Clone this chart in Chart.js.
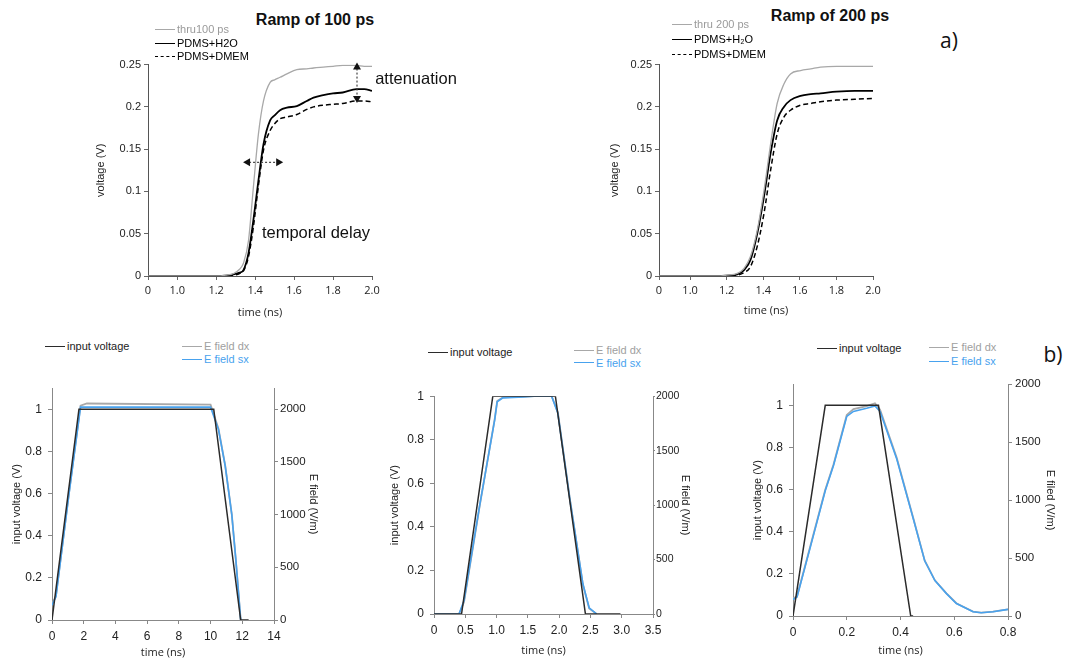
<!DOCTYPE html>
<html>
<head>
<meta charset="utf-8">
<script src="https://cdn.jsdelivr.net/npm/chart.js@4.4.1/dist/chart.umd.min.js"></script>
<style>
  body { margin: 0; width: 1073px; height: 661px; background: #fff; position: relative; overflow: hidden;
         font-family: "Liberation Sans", Arial, sans-serif; }
  canvas { position: absolute; }
  .lbl { position: absolute; white-space: nowrap; color: #111; transform: translate(-50%, -50%); }
  .lg { position: absolute; font-size: 11px; }
  .lg div { display: flex; align-items: center; white-space: nowrap; }
  .lg .ln { display: inline-block; width: 20px; margin-right: 2px; border-top-width: 1.5px; }
</style>
</head>
<body>

<canvas id="c1" width="300" height="268" style="left:90px;top:55px"></canvas>
<canvas id="c2" width="287" height="266" style="left:604px;top:55px"></canvas>
<canvas id="c3" width="318" height="286" style="left:6px;top:375px"></canvas>
<canvas id="c4" width="312" height="278" style="left:384px;top:383px"></canvas>
<canvas id="c5" width="314" height="290" style="left:747px;top:371px"></canvas>

<div class="lbl" style="left:315px;top:20px;font-weight:bold;font-size:16px">Ramp of 100 ps</div>
<div class="lbl" style="left:830px;top:16px;font-weight:bold;font-size:16px">Ramp of 200 ps</div>
<div class="lbl" style="left:416px;top:78px;font-size:16.5px">attenuation</div>
<div class="lbl" style="left:316px;top:232px;font-size:16.5px">temporal delay</div>
<div class="lbl" style="left:949px;top:40px;font-size:21px;font-family:'Open Sans'">a)</div>
<div class="lbl" style="left:1053px;top:354px;font-size:21px;font-family:'Open Sans'">b)</div>

<div class="lg" id="lg1" style="left:155px;top:23px;line-height:13.5px"></div>
<div class="lg" id="lg2" style="left:672px;top:17px;line-height:15px"></div>
<div class="lg" id="lg3a" style="left:45px;top:340px;line-height:13px"></div>
<div class="lg" id="lg3b" style="left:182px;top:340px;line-height:13px"></div>
<div class="lg" id="lg4a" style="left:428px;top:346px;line-height:13px"></div>
<div class="lg" id="lg4b" style="left:574px;top:344px;line-height:12.5px"></div>
<div class="lg" id="lg5a" style="left:817px;top:341px;line-height:14px"></div>
<div class="lg" id="lg5b" style="left:929px;top:340px;line-height:14px"></div>

<script>
/*************************************************
 * Data - ramp of 100 ps (time in ns, voltage in V)
 *************************************************/
const ramp100Time = [0.85, 1.0, 1.1, 1.2, 1.25, 1.29, 1.32, 1.34, 1.366, 1.391, 1.417, 1.443, 1.477, 1.50,
                     1.528, 1.563, 1.614, 1.665, 1.70, 1.75, 1.80, 1.85, 1.92, 1.96, 2.0];
const thru100 = [0, 0, 0, 0, 0.001, 0.003, 0.008, 0.015, 0.042, 0.105, 0.168, 0.207, 0.229, 0.232,
                 0.235, 0.239, 0.244, 0.245, 0.246, 0.247, 0.248, 0.249, 0.249, 0.248, 0.248];
const h2o100 = [0, 0, 0, 0, 0.0005, 0.002, 0.004, 0.007, 0.027, 0.066, 0.113, 0.156, 0.184, 0.190,
                0.196, 0.199, 0.201, 0.207, 0.211, 0.214, 0.216, 0.217, 0.221, 0.221, 0.219];
const dmem100 = [0, 0, 0, 0, 0, 0.001, 0.003, 0.006, 0.023, 0.058, 0.107, 0.149, 0.172, 0.180,
                 0.186, 0.188, 0.191, 0.197, 0.200, 0.202, 0.203, 0.204, 0.207, 0.207, 0.206];
const ramp100Ticks = [0.85, 1.0, 1.2, 1.4, 1.6, 1.8, 2.0];

/*************************************************
 * Data - ramp of 200 ps
 *************************************************/
const ramp200Time = [0.83, 1.0, 1.15, 1.2, 1.258, 1.295, 1.33, 1.367, 1.404, 1.44, 1.476, 1.513, 1.549,
                     1.604, 1.66, 1.713, 1.8, 1.9, 2.0];
const thru200 = [0, 0, 0, 0.001, 0.003, 0.009, 0.023, 0.054, 0.101, 0.156, 0.204, 0.227, 0.239,
                 0.243, 0.245, 0.247, 0.248, 0.248, 0.248];
const h2o200 = [0, 0, 0, 0.0005, 0.002, 0.007, 0.019, 0.050, 0.094, 0.145, 0.184, 0.200, 0.208,
                0.213, 0.215, 0.216, 0.218, 0.219, 0.219];
const dmem200 = [0, 0, 0, 0, 0.001, 0.004, 0.011, 0.035, 0.074, 0.125, 0.168, 0.188, 0.196,
                 0.202, 0.204, 0.206, 0.208, 0.209, 0.210];
const ramp200Ticks = [0.83, 1.0, 1.2, 1.4, 1.6, 1.8, 2.0];

const rampTickLabels = ['0', '1.0', '1.2', '1.4', '1.6', '1.8', '2.0'];
const rampLabels100 = ['thru100 ps', 'PDMS+H2O', 'PDMS+DMEM'];
const rampLabels200 = ['thru 200 ps', 'PDMS+H\u2082O', 'PDMS+DMEM'];

// dotted arrows of the first panel, in data units (ns, V)
const delayArrow = { x1: 1.338, y1: 0.1344, x2: 1.544, y2: 0.1344 };
const attenArrow = { x1: 1.923, y1: 0.2524, x2: 1.923, y2: 0.2045 };

/*************************************************
 * Data - pulse 1 (0..14 ns)
 *************************************************/
const p1InputTime = [0, 1.7, 10.2, 11.9, 12.4];
const p1Input = [0, 1, 1, 0, 0];
const p1FieldTime = [0, 0.25, 1.05, 1.8, 2.2, 10.0, 10.5, 10.92, 11.34, 11.6, 11.9];
const p1FieldDx = [150, 230, 1180, 2035, 2055, 2044, 1815, 1470, 1000, 560, 0];
const p1FieldSx = [140, 220, 1170, 2020, 2020, 2020, 1807, 1464, 997, 560, 0];

/*************************************************
 * Data - pulse 2 (0..3.5 ns)
 *************************************************/
const p2InputTime = [0, 0.44, 0.94, 1.94, 2.42, 2.98];
const p2Input = [0, 0, 1, 1, 0, 0];
const p2FieldTime = [0, 0.40, 0.48, 0.73, 0.97, 1.01, 1.10, 1.43, 1.60, 1.88, 1.98, 2.17, 2.38, 2.48, 2.60];
const p2FieldDx = [0, 0, 110, 990, 1790, 1955, 1990, 1996, 2000, 2000, 1850, 1065, 270, 50, 0];
const p2FieldSx = [0, 0, 124, 998, 1783, 1949, 1985, 1994, 2000, 2000, 1843, 1059, 275, 57, 0];

/*************************************************
 * Data - pulse 3 (0..0.8 ns)
 *************************************************/
const p3InputTime = [0, 0.12, 0.318, 0.438, 0.447];
const p3Input = [0, 1, 1, 0, 0];
const p3FieldTime = [0, 0.015, 0.064, 0.12, 0.151, 0.2, 0.225, 0.274, 0.305, 0.324, 0.386, 0.447,
                     0.49, 0.528, 0.571, 0.608, 0.67, 0.70, 0.744, 0.8];
const p3FieldDx = [150, 170, 600, 1090, 1310, 1735, 1785, 1810, 1836, 1780, 1365, 850,
                   480, 308, 195, 110, 38, 30, 38, 58];
const p3FieldSx = [142, 164, 590, 1080, 1300, 1722, 1765, 1793, 1813, 1765, 1354, 844,
                   476, 306, 193, 108, 37, 28, 37, 57];

const pulseLabels = ['input voltage', 'E field dx', 'E field sx'];
const fieldTicks = [0, 500, 1000, 1500, 2000];

/*************************************************
 * Helpers / plugins
 *************************************************/
const pts = (xs, ys) => xs.map((x, i) => ({ x: x, y: ys[i] }));
const plainNum = v => String(+Number(v).toFixed(3));

// legend built as html from the chart datasets
const htmlLegend = {
  id: 'htmlLegend',
  afterUpdate(chart, args, opts) {
    (opts.groups || []).forEach(g => {
      const box = document.getElementById(g.id);
      box.innerHTML = '';
      g.items.forEach(i => {
        const ds = chart.data.datasets[i];
        const row = document.createElement('div');
        const ln = document.createElement('span');
        ln.className = 'ln';
        ln.style.borderTopColor = ds.borderColor;
        ln.style.borderTopStyle = ds.borderDash ? 'dashed' : 'solid';
        const tx = document.createElement('span');
        tx.textContent = ds.label;
        tx.style.color = ds.textColor || ds.borderColor;
        row.append(ln, tx);
        box.append(row);
      });
    });
  }
};

function arrowHead(ctx, x, y, ang) {
  ctx.beginPath();
  ctx.moveTo(x, y);
  ctx.lineTo(x - 7 * Math.cos(ang) + 4 * Math.sin(ang), y - 7 * Math.sin(ang) - 4 * Math.cos(ang));
  ctx.lineTo(x - 7 * Math.cos(ang) - 4 * Math.sin(ang), y - 7 * Math.sin(ang) + 4 * Math.cos(ang));
  ctx.closePath();
  ctx.fill();
}

const arrowPlugin = {
  id: 'arrows',
  afterDatasetsDraw(chart, args, opts) {
    if (!opts.list) return;
    const { ctx, scales: { x, y } } = chart;
    ctx.save();
    ctx.strokeStyle = '#444';
    ctx.fillStyle = '#111';
    ctx.lineWidth = 1.2;
    opts.list.forEach(a => {
      const x1 = x.getPixelForValue(a.x1), y1 = y.getPixelForValue(a.y1);
      const x2 = x.getPixelForValue(a.x2), y2 = y.getPixelForValue(a.y2);
      const ang = Math.atan2(y2 - y1, x2 - x1);
      ctx.setLineDash([2, 2]);
      ctx.beginPath();
      ctx.moveTo(x1 + 6 * Math.cos(ang), y1 + 6 * Math.sin(ang));
      ctx.lineTo(x2 - 6 * Math.cos(ang), y2 - 6 * Math.sin(ang));
      ctx.stroke();
      ctx.setLineDash([]);
      arrowHead(ctx, x2, y2, ang);
      arrowHead(ctx, x1, y1, ang + Math.PI);
    });
    ctx.restore();
  }
};

const axisGrid = (color, len) => ({ drawOnChartArea: false, tickLength: len || 4, color: color });
const axisBorder = color => ({ color: color, width: 1 });

/*************************************************
 * Ramp charts (top row)
 *************************************************/
function rampChart(id, time, thru, h2o, dmem, labels, tickVals, legendId, yWidth, xHeight, arrows) {
  return new Chart(document.getElementById(id), {
    type: 'line',
    data: {
      datasets: [
        { label: labels[0], data: pts(time, thru), borderColor: '#a8a8a8', textColor: '#9a9a9a', borderWidth: 1.3 },
        { label: labels[1], data: pts(time, h2o), borderColor: '#000', borderWidth: 1.8 },
        { label: labels[2], data: pts(time, dmem), borderColor: '#000', borderWidth: 1.5, borderDash: [5, 3] }
      ]
    },
    options: {
      responsive: false,
      animation: false,
      layout: { padding: { top: 9, right: 18, left: 0, bottom: 0 } },
      elements: { point: { radius: 0 }, line: { cubicInterpolationMode: 'monotone' } },
      plugins: {
        legend: { display: false },
        tooltip: { enabled: false },
        htmlLegend: { groups: [{ id: legendId, items: [0, 1, 2] }] },
        arrows: { list: arrows }
      },
      scales: {
        x: {
          type: 'linear',
          min: tickVals[0],
          max: 2.0,
          afterBuildTicks: s => { s.ticks = tickVals.map(v => ({ value: v })); },
          afterFit: s => { s.height = xHeight; },
          ticks: { callback: (v, i) => rampTickLabels[i], color: '#222', maxRotation: 0, padding: 4,
                   font: { family: 'Open Sans', size: 11 } },
          grid: axisGrid('#666'),
          border: axisBorder('#555'),
          title: { display: true, text: 'time (ns)', color: '#222', font: { family: 'Open Sans', size: 11 } }
        },
        y: {
          min: 0,
          max: 0.25,
          afterFit: s => { s.width = yWidth; },
          ticks: { stepSize: 0.05, callback: plainNum, color: '#222', padding: 3,
                   font: { family: 'Liberation Sans', size: 11 } },
          grid: axisGrid('#666'),
          border: axisBorder('#555'),
          title: { display: true, text: 'voltage (V)', color: '#222', font: { family: 'Liberation Sans', size: 11 } }
        }
      }
    },
    plugins: [htmlLegend, arrowPlugin]
  });
}

rampChart('c1', ramp100Time, thru100, h2o100, dmem100, rampLabels100, ramp100Ticks, 'lg1', 58, 47,
          [delayArrow, attenArrow]);
rampChart('c2', ramp200Time, thru200, h2o200, dmem200, rampLabels200, ramp200Ticks, 'lg2', 55, 45, null);

/*************************************************
 * Pulse charts (bottom row), two y axes
 *************************************************/
function pulseChart(id, c) {
  return new Chart(document.getElementById(id), {
    type: 'line',
    data: {
      datasets: [
        { label: pulseLabels[0], data: pts(c.inT, c.inV), yAxisID: 'y', borderColor: '#2b2b2b',
          textColor: '#222', borderWidth: 1.5, order: 0 },
        { label: pulseLabels[1], data: pts(c.eT, c.dx), yAxisID: 'y1', borderColor: '#a8a8a8',
          textColor: '#a0a0a0', borderWidth: 1.8, order: 2 },
        { label: pulseLabels[2], data: pts(c.eT, c.sx), yAxisID: 'y1', borderColor: '#48a2ee',
          borderWidth: 1.6, order: 1 }
      ]
    },
    options: {
      responsive: false,
      animation: false,
      layout: { padding: { top: 10, right: 0, left: 0, bottom: 0 } },
      elements: { point: { radius: 0 }, line: { tension: 0 } },
      plugins: {
        legend: { display: false },
        tooltip: { enabled: false },
        htmlLegend: { groups: [{ id: c.lgA, items: [0] }, { id: c.lgB, items: [1, 2] }] }
      },
      scales: {
        x: {
          type: 'linear',
          min: 0,
          max: c.xMax,
          afterFit: s => { s.height = c.xH; },
          ticks: { stepSize: c.xStep, callback: c.xFmt, color: '#222', maxRotation: 0, padding: 5,
                   font: { family: 'Liberation Sans', size: 12 } },
          grid: axisGrid('#888'),
          border: axisBorder('#888'),
          title: { display: true, text: 'time (ns)', color: '#222', padding: { top: 2, bottom: c.xTitlePad },
                   font: { family: 'Open Sans', size: 11 } }
        },
        y: {
          min: 0,
          max: c.yMax,
          afterFit: s => { s.width = c.yW; },
          ticks: { stepSize: 0.2, includeBounds: false, callback: plainNum, color: '#222', padding: 6,
                   font: { family: 'Liberation Sans', size: 12 } },
          grid: axisGrid('#888'),
          border: axisBorder('#888'),
          title: { display: true, text: 'input voltage (V)', color: '#222',
                   font: { family: 'Liberation Sans', size: 11 } }
        },
        y1: {
          position: 'right',
          min: 0,
          max: c.rMax,
          afterBuildTicks: s => { s.ticks = fieldTicks.map(v => ({ value: v })); },
          afterFit: s => { s.width = c.rW; },
          ticks: { callback: plainNum, color: '#222', padding: c.rPad,
                   font: { family: 'Liberation Sans', size: c.rFont } },
          grid: axisGrid('#888', c.rTick),
          border: axisBorder('#888'),
          title: { display: true, text: c.rTitle, color: '#222', font: { family: 'Liberation Sans', size: 11 } }
        }
      }
    },
    plugins: [htmlLegend]
  });
}

const oneDecimal = v => (v === 0 ? '0' : Number(v).toFixed(1));

pulseChart('c3', {
  inT: p1InputTime, inV: p1Input, eT: p1FieldTime, dx: p1FieldDx, sx: p1FieldSx,
  xMax: 14, xStep: 2, xFmt: plainNum, yMax: 1.1, rMax: 2200,
  yW: 46, rW: 50, xH: 41, xTitlePad: 2, rTitle: 'E field (V/m)', lgA: 'lg3a', lgB: 'lg3b',
  rPad: 2, rFont: 11.5, rTick: 4
});

pulseChart('c4', {
  inT: p2InputTime, inV: p2Input, eT: p2FieldTime, dx: p2FieldDx, sx: p2FieldSx,
  xMax: 3.5, xStep: 0.5, xFmt: oneDecimal, yMax: 1, rMax: 2000,
  yW: 50, rW: 43, xH: 47, xTitlePad: 4, rTitle: 'E field (V/m)', lgA: 'lg4a', lgB: 'lg4b',
  rPad: 1, rFont: 10.5, rTick: 2
});

pulseChart('c5', {
  inT: p3InputTime, inV: p3Input, eT: p3FieldTime, dx: p3FieldDx, sx: p3FieldSx,
  xMax: 0.8, xStep: 0.2, xFmt: oneDecimal, yMax: 1.1, rMax: 2000,
  yW: 46, rW: 53, xH: 45, xTitlePad: 4, rTitle: 'E filed (V/m)', lgA: 'lg5a', lgB: 'lg5b',
  rPad: 3, rFont: 11.5, rTick: 4
});
</script>
</body>
</html>
